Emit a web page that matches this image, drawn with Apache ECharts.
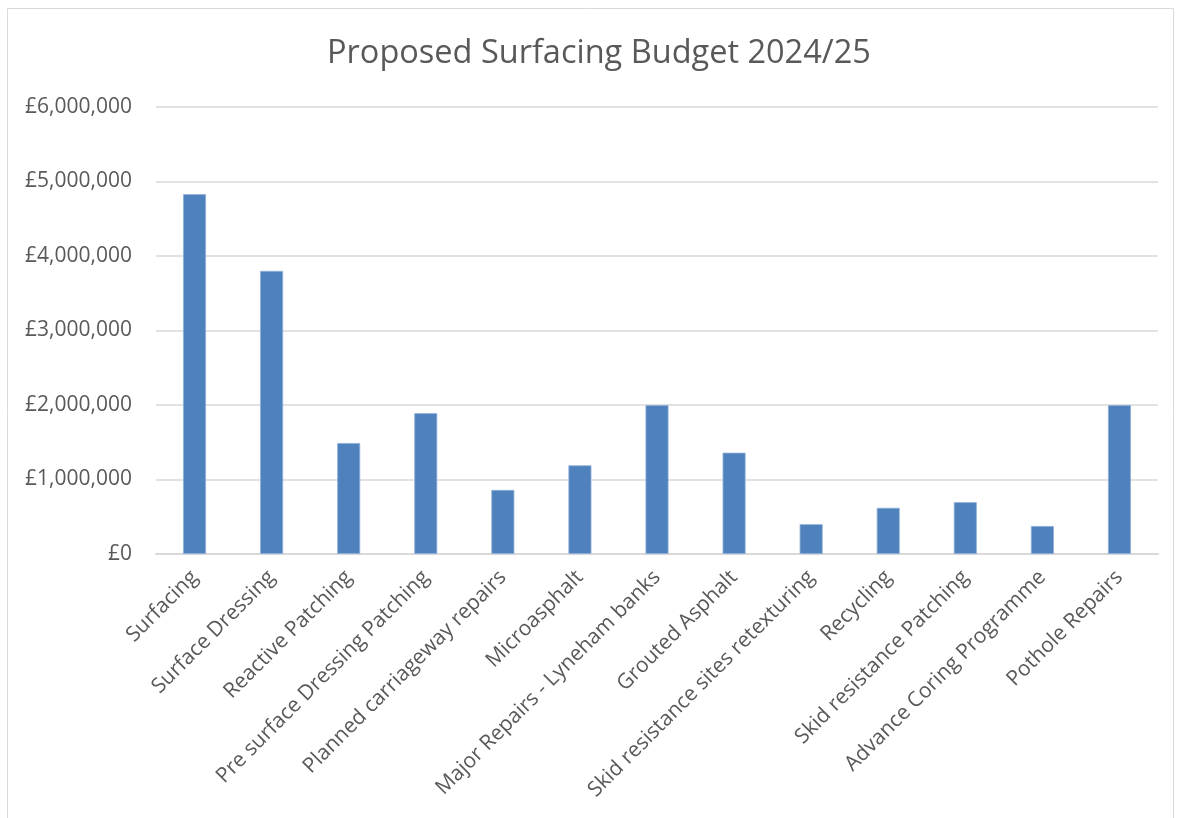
<!DOCTYPE html>
<html>
<head>
<meta charset="utf-8">
<script src="https://cdn.jsdelivr.net/npm/echarts@6/dist/echarts.min.js"></script>
<style>
html,body{margin:0;padding:0;background:#fff;}
#chart{width:1179px;height:818px;}
</style>
</head>
<body>
<div id="chart"></div>
<script>
const titleText = 'Proposed Surfacing Budget 2024/25';
const categories = [
  'Surfacing',
  'Surface Dressing',
  'Reactive Patching',
  'Pre surface Dressing Patching',
  'Planned carriageway repairs',
  'Microasphalt',
  'Major Repairs - Lyneham banks',
  'Grouted Asphalt',
  'Skid resistance sites retexturing',
  'Recycling',
  'Skid resistance Patching',
  'Advance Coring Programme',
  'Pothole Repairs'
];
const budget = [4830000, 3800000, 1490000, 1890000, 860000, 1190000, 2000000, 1360000, 400000, 620000, 695000, 376000, 2000000];
const yTicks = [0, 1000000, 2000000, 3000000, 4000000, 5000000, 6000000];

const fontFam = '"Open Sans", "Liberation Sans", sans-serif';
const txt = '#595959';

function fmt(v) {
  return '£' + String(Math.round(v)).replace(/\B(?=(\d{3})+(?!\d))/g, ',');
}

const chart = echarts.init(document.getElementById('chart'), null, {renderer: 'canvas'});
chart.setOption({
  animation: false,
  backgroundColor: '#ffffff',
  graphic: [{
    type: 'rect',
    shape: {x: 7.5, y: 8.5, width: 1166, height: 830},
    style: {fill: 'none', stroke: '#d9d9d9', lineWidth: 1},
    silent: true
  }],
  title: {
    text: titleText,
    left: 322,
    top: 32,
    textStyle: {fontFamily: fontFam, fontSize: 32.5, fontWeight: 'normal', color: txt}
  },
  grid: {left: 156, right: 21, top: 107, bottom: 264, containLabel: false},
  xAxis: {
    type: 'category',
    data: categories,
    axisTick: {show: false},
    axisLine: {show: true, lineStyle: {color: '#d9d9d9', width: 2}},
    axisLabel: {
      interval: 0,
      rotate: 45,
      margin: 20,
      fontFamily: fontFam,
      fontSize: 21,
      color: txt
    }
  },
  yAxis: {
    type: 'value',
    min: yTicks[0],
    max: yTicks[yTicks.length - 1],
    interval: yTicks[1] - yTicks[0],
    axisLine: {show: false},
    axisTick: {show: false},
    splitLine: {lineStyle: {color: '#d9d9d9', width: 1.5}},
    axisLabel: {
      margin: 24,
      fontFamily: fontFam,
      fontSize: 21,
      color: txt,
      formatter: fmt
    }
  },
  series: [{
    type: 'bar',
    data: budget,
    barWidth: 23,
    itemStyle: {color: '#4f81bd', borderColor: '#8fb0da', borderWidth: 0.8}
  }]
});
</script>
</body>
</html>
